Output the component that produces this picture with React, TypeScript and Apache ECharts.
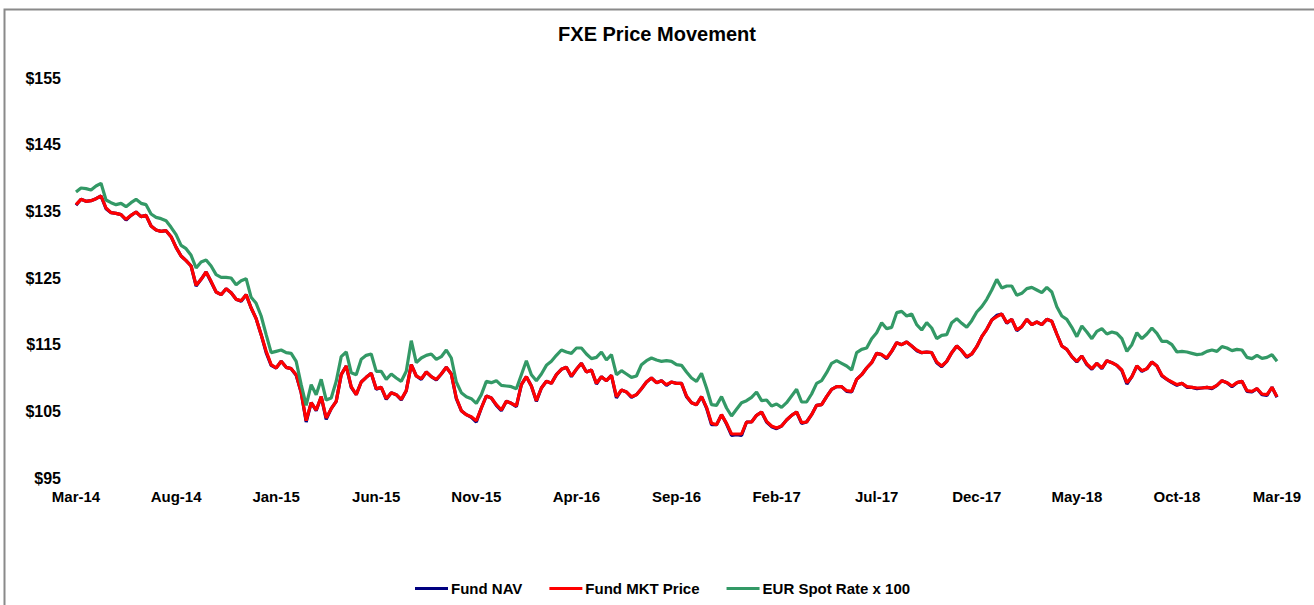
import React, { useEffect, useRef } from "react";
import * as echarts from "echarts";

// Weekly-ish observation dates, Mar-2014 .. Mar-2019 (1st, 8th, 16th, 23rd of each month)
const START_YEAR = 2014;
const START_MONTH = 3;
const POINTS = 241;
const DAYS = [1, 8, 16, 23];
const MONTHS = ["Jan", "Feb", "Mar", "Apr", "May", "Jun", "Jul", "Aug", "Sep", "Oct", "Nov", "Dec"];

const dates: string[] = [];
for (let i = 0; i < POINTS; i++) {
  const m = START_MONTH - 1 + Math.floor(i / 4);
  const y = START_YEAR + Math.floor(m / 12);
  const mm = (m % 12) + 1;
  const d = DAYS[i % 4];
  dates.push(`${y}-${String(mm).padStart(2, "0")}-${String(d).padStart(2, "0")}`);
}

// EUR spot rate x 100
const eurSpot: number[] = [
  137.9, 138.5, 138.4, 138.2, 138.8, 139.2, 136.7, 136.3, 136.0, 136.2,
  135.7, 136.3, 136.8, 136.2, 136.0, 134.6, 134.1, 133.9, 133.6, 132.6,
  131.5, 129.9, 129.4, 128.4, 126.5, 127.4, 127.7, 126.8, 125.5, 125.1,
  125.1, 125.0, 124.0, 124.6, 124.9, 122.1, 121.2, 119.3, 116.5, 113.8,
  114.0, 114.2, 113.8, 113.7, 112.5, 109.0, 105.9, 109.0, 107.5, 109.8,
  106.7, 107.0, 109.5, 113.2, 113.9, 110.8, 110.5, 112.8, 113.4, 113.6,
  111.0, 111.0, 109.8, 110.6, 110.0, 109.5, 111.0, 115.6, 112.3, 113.0,
  113.4, 113.6, 112.8, 113.2, 114.2, 113.0, 109.4, 107.8, 107.2, 106.9,
  106.2, 107.5, 109.5, 109.3, 109.6, 108.9, 108.8, 108.7, 108.4, 110.5,
  112.6, 110.5, 109.6, 110.6, 111.9, 112.5, 113.4, 114.2, 113.9, 113.7,
  114.5, 114.5, 113.6, 112.9, 113.1, 113.9, 112.7, 113.5, 110.5, 111.1,
  110.6, 110.1, 110.3, 112.0, 112.6, 113.0, 112.7, 112.5, 112.6, 112.5,
  112.0, 111.9, 110.9, 110.0, 109.5, 110.7, 108.5, 106.0, 105.9, 107.2,
  105.5, 104.3, 105.3, 106.3, 106.6, 107.1, 107.9, 106.6, 106.7, 105.8,
  106.1, 105.6, 106.3, 107.3, 108.3, 106.4, 106.4, 107.6, 109.2, 109.6,
  110.8, 112.2, 112.6, 112.2, 111.8, 111.2, 113.8, 114.3, 114.5, 115.9,
  116.8, 118.3, 117.4, 117.6, 119.8, 120.0, 119.3, 119.6, 118.0, 117.2,
  118.3, 117.5, 115.9, 116.4, 116.5, 118.3, 118.9, 118.2, 117.6, 118.6,
  119.9, 120.7, 121.8, 123.2, 124.8, 123.5, 123.8, 123.8, 122.4, 122.7,
  123.4, 123.6, 123.2, 122.8, 123.6, 122.9, 120.7, 119.3, 118.8, 117.6,
  116.2, 117.8, 116.9, 115.9, 117.0, 117.4, 116.6, 116.9, 116.7, 115.9,
  114.0, 115.0, 116.8, 115.9, 116.6, 117.5, 116.7, 115.5, 115.5, 115.0,
  113.9, 114.0, 113.9, 113.7, 113.5, 113.6, 114.0, 114.2, 114.0, 114.7,
  114.5, 114.1, 114.3, 114.2, 113.1, 112.9, 113.4, 112.95, 113.1, 113.5,
  112.5,
];

// Fund market price
const fundMkt: number[] = [
  136.0, 136.8, 136.5, 136.6, 136.9, 137.3, 135.5, 134.8, 134.7, 134.5,
  133.8, 134.4, 134.9, 134.2, 134.4, 132.8, 132.2, 132.0, 132.1, 131.2,
  129.6, 128.3, 127.6, 126.8, 123.9, 124.8, 125.9, 124.5, 122.9, 122.5,
  123.4, 122.8, 121.8, 121.6, 122.5, 120.5, 118.9, 116.5, 114.0, 112.0,
  111.5, 112.5, 111.6, 111.4, 110.5, 107.8, 103.6, 106.3, 105.2, 107.2,
  104.0, 105.4, 106.5, 110.5, 111.8, 108.7, 107.5, 109.4, 110.1, 110.7,
  108.4, 108.6, 106.9, 107.8, 107.5, 106.8, 108.1, 112.0, 110.3, 109.9,
  110.9, 110.2, 109.8, 110.6, 111.6, 110.6, 107.0, 105.1, 104.5, 104.2,
  103.6, 105.5, 107.3, 107.0, 106.0, 105.2, 106.5, 106.2, 105.8, 109.0,
  110.2, 108.8, 106.6, 108.5, 109.5, 109.2, 110.5, 111.3, 111.6, 110.3,
  111.3, 112.2, 110.9, 111.2, 109.2, 110.2, 109.6, 110.4, 107.2, 108.2,
  107.9, 107.2, 107.5, 108.4, 109.4, 110.0, 109.3, 109.6, 109.0, 109.4,
  109.2, 109.2, 107.3, 106.3, 106.0, 107.2, 105.6, 103.2, 103.0, 104.5,
  103.2, 101.6, 101.6, 101.6, 103.4, 103.4, 104.4, 104.9, 103.5, 102.8,
  102.5, 102.8, 103.7, 104.4, 104.9, 103.3, 103.4, 104.5, 105.9, 106.0,
  107.2, 108.3, 108.7, 108.7, 108.1, 108.0, 109.8, 110.5, 111.5, 112.3,
  113.7, 113.5, 113.0, 114.0, 115.3, 115.0, 115.4, 114.8, 114.2, 113.8,
  113.9, 113.8, 112.4, 111.8, 112.5, 113.8, 114.8, 114.1, 113.2, 113.6,
  114.7, 116.2, 117.3, 118.7, 119.2, 119.6, 118.3, 118.8, 117.2, 117.7,
  118.8, 118.0, 118.4, 118.0, 118.8, 118.5, 116.6, 114.8, 114.3, 113.2,
  112.5, 113.3, 112.1, 111.4, 112.2, 111.5, 112.6, 112.3, 111.9, 111.2,
  109.3, 110.2, 111.8, 111.1, 111.4, 112.4, 111.8, 110.4, 109.8, 109.4,
  109.0, 109.2, 108.7, 108.6, 108.5, 108.5, 108.6, 108.5, 108.9, 109.6,
  109.3, 108.8, 109.3, 109.5, 108.1, 108.0, 108.4, 107.6, 107.5, 108.6,
  107.2,
];

// Fund NAV
const fundNav: number[] = [
  135.9, 136.8, 136.5, 136.6, 136.9, 137.3, 135.4, 134.8, 134.7, 134.5,
  133.7, 134.4, 134.9, 134.2, 134.4, 132.8, 132.2, 132.0, 132.1, 131.2,
  129.6, 128.3, 127.6, 126.8, 123.8, 124.8, 125.9, 124.4, 122.9, 122.5,
  123.4, 122.8, 121.8, 121.5, 122.5, 120.5, 118.9, 116.5, 113.8, 111.9,
  111.5, 112.5, 111.6, 111.4, 110.4, 107.8, 103.4, 106.3, 105.1, 107.2,
  103.8, 105.4, 106.5, 110.5, 111.8, 108.6, 107.5, 109.4, 110.1, 110.7,
  108.3, 108.6, 106.8, 107.8, 107.5, 106.7, 108.1, 112.0, 110.3, 109.8,
  110.9, 110.2, 109.7, 110.6, 111.6, 110.6, 106.9, 105.1, 104.5, 104.1,
  103.4, 105.5, 107.3, 107.0, 105.9, 105.1, 106.5, 106.2, 105.7, 109.0,
  110.2, 108.8, 106.5, 108.5, 109.5, 109.2, 110.5, 111.3, 111.6, 110.2,
  111.3, 112.2, 110.9, 111.2, 109.1, 110.2, 109.6, 110.4, 107.0, 108.2,
  107.9, 107.1, 107.5, 108.4, 109.4, 110.0, 109.3, 109.6, 108.9, 109.4,
  109.2, 109.2, 107.2, 106.3, 106.0, 107.2, 105.5, 103.0, 103.0, 104.5,
  103.1, 101.4, 101.5, 101.4, 103.4, 103.4, 104.4, 104.9, 103.4, 102.7,
  102.4, 102.8, 103.7, 104.4, 104.9, 103.2, 103.4, 104.5, 105.9, 106.0,
  107.2, 108.3, 108.7, 108.7, 108.0, 107.9, 109.8, 110.5, 111.5, 112.3,
  113.7, 113.5, 112.9, 114.0, 115.3, 115.0, 115.4, 114.8, 114.1, 113.8,
  113.9, 113.8, 112.3, 111.7, 112.5, 113.8, 114.8, 114.1, 113.1, 113.6,
  114.7, 116.2, 117.3, 118.7, 119.4, 119.6, 118.2, 118.8, 117.1, 117.7,
  118.8, 118.0, 118.4, 118.0, 118.8, 118.5, 116.6, 114.8, 114.3, 113.2,
  112.4, 113.3, 112.0, 111.3, 112.2, 111.4, 112.6, 112.3, 111.9, 111.1,
  109.1, 110.2, 111.8, 111.0, 111.4, 112.4, 111.8, 110.3, 109.8, 109.3,
  108.9, 109.2, 108.6, 108.6, 108.4, 108.5, 108.6, 108.4, 108.9, 109.6,
  109.3, 108.7, 109.3, 109.5, 108.0, 107.9, 108.4, 107.5, 107.4, 108.6,
  107.1,
];

const SERIES_NAMES = ["Fund NAV", "Fund MKT Price", "EUR Spot Rate x 100"];
const SERIES_COLORS = ["#000080", "#ff0000", "#339966"];
const Y_MIN = 95;
const Y_MAX = 155;
const Y_STEP = 10;
const LABEL_EVERY = 20; // every 5 months

const FONT = 'Arial, "Liberation Sans", sans-serif';

export default function App() {
  const ref = useRef<HTMLDivElement>(null);

  useEffect(() => {
    if (!ref.current) return;
    const chart = echarts.init(ref.current, undefined, { renderer: "svg" });
    const seriesData = [fundNav, fundMkt, eurSpot];
    chart.setOption({
      animation: false,
      backgroundColor: "#ffffff",
      graphic: [
        {
          type: "rect",
          shape: { x: 4.5, y: 9.5, width: 1400, height: 700 },
          style: { fill: "none", stroke: "#8a8a8a", lineWidth: 2 },
          silent: true,
        },
      ],
      title: {
        text: "FXE Price Movement",
        left: "center",
        top: 19,
        textStyle: { fontFamily: FONT, fontSize: 20, fontWeight: "bold", color: "#000" },
      },
      legend: {
        data: SERIES_NAMES,
        top: 576,
        left: 410,
        icon: "rect",
        itemWidth: 33,
        itemHeight: 3,
        itemGap: 27,
        textStyle: { fontFamily: FONT, fontSize: 15, fontWeight: "bold", color: "#000", padding: [0, 0, 0, -2] },
      },
      grid: { left: 76, right: 37, top: 78, bottom: 127, containLabel: false },
      xAxis: {
        type: "category",
        data: dates,
        boundaryGap: false,
        axisLine: { show: false },
        axisTick: { show: false },
        splitLine: { show: false },
        axisLabel: {
          interval: LABEL_EVERY - 1,
          margin: 11,
          fontFamily: FONT,
          fontSize: 15,
          fontWeight: "bold",
          color: "#000",
          formatter: (v: string) => {
            const [y, m] = v.split("-");
            return `${MONTHS[parseInt(m, 10) - 1]}-${y.slice(2)}`;
          },
        },
      },
      yAxis: {
        type: "value",
        min: Y_MIN,
        max: Y_MAX,
        interval: Y_STEP,
        axisLine: { show: false },
        axisTick: { show: false },
        splitLine: { show: false },
        axisLabel: {
          margin: 15,
          fontFamily: FONT,
          fontSize: 16,
          fontWeight: "bold",
          color: "#000",
          formatter: (v: number) => `$${v}`,
        },
      },
      series: SERIES_NAMES.map((name, k) => ({
        name,
        type: "line",
        data: seriesData[k],
        showSymbol: false,
        symbol: "none",
        color: SERIES_COLORS[k],
        lineStyle: { color: SERIES_COLORS[k], width: 3.2 },
        z: 2 + k,
      })),
    });
    return () => chart.dispose();
  }, []);

  return (
    <div
      ref={ref}
      style={{ position: "fixed", left: 0, top: 0, width: 1314, height: 605, background: "#fff" }}
    />
  );
}
